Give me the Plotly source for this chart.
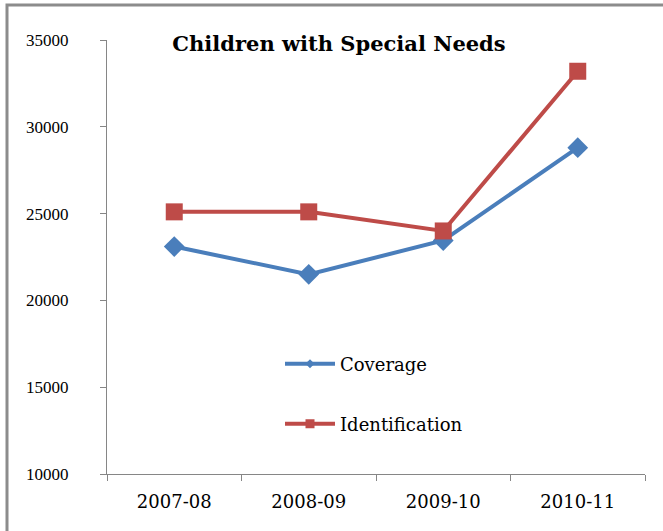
import plotly.graph_objects as go

categories = ["2007-08", "2008-09", "2009-10", "2010-11"]
coverage = [23100, 21500, 23450, 28800]
identification = [25100, 25100, 24000, 33200]
y_ticks = [10000, 15000, 20000, 25000, 30000, 35000]

BLUE = "#4A7EBB"
RED = "#BE4B48"
FONT = "Liberation Serif"
WIDE = "DejaVu Serif"

fig = go.Figure()
fig.add_trace(go.Scatter(
    x=categories, y=coverage, name="Coverage", mode="lines+markers",
    line=dict(color=BLUE, width=4),
    marker=dict(symbol="diamond", size=16, color=BLUE),
    showlegend=False,
))
fig.add_trace(go.Scatter(
    x=categories, y=identification, name="Identification", mode="lines+markers",
    line=dict(color=RED, width=4),
    marker=dict(symbol="square", size=17, color=RED),
    showlegend=False,
))
# legend entries (Excel-style small legend markers)
fig.add_trace(go.Scatter(
    x=[None], y=[None], name="Coverage", mode="lines+markers",
    line=dict(color=BLUE, width=4),
    marker=dict(symbol="diamond", size=7, color=BLUE),
    legend="legend", showlegend=True,
))
fig.add_trace(go.Scatter(
    x=[None], y=[None], name="Identification", mode="lines+markers",
    line=dict(color=RED, width=4),
    marker=dict(symbol="square", size=9, color=RED),
    legend="legend2", showlegend=True,
))

legend_common = dict(xanchor="left", yanchor="middle",
                     itemwidth=50, font=dict(family=WIDE, size=18, color="black"),
                     bgcolor="rgba(0,0,0,0)")

fig.update_layout(
    width=663, height=531,
    showlegend=True,
    margin=dict(l=107, r=18, t=40, b=57),
    paper_bgcolor="white", plot_bgcolor="white",
    font=dict(family=FONT, size=16, color="black"),
    title=dict(text="<b>Children with Special Needs</b>",
               font=dict(family=WIDE, size=21, color="black"),
               x=(339 - 107) / 538, xref="paper", xanchor="center",
               y=1 - 44 / 531, yref="container", yanchor="middle"),
    xaxis=dict(type="category", showgrid=False, showline=True, linecolor="#868686", linewidth=1,
               ticks="outside", tickson="boundaries", ticklen=6, tickcolor="#868686",
               ticklabelstandoff=11, tickfont=dict(family=WIDE, size=18),
               range=[-0.5, 3.5]),
    yaxis=dict(range=[10000, 35000], tickvals=y_ticks, tickformat="d", showgrid=False,
               showline=True, linecolor="#868686", linewidth=1,
               ticks="outside", ticklen=6, tickcolor="#868686",
               ticklabelstandoff=28, tickfont=dict(family=FONT, size=17),
               zeroline=False),
    legend=dict(x=(280 - 107) / 538, y=(474 - 364) / 434, **legend_common),
    legend2=dict(x=(280 - 107) / 538, y=(474 - 424) / 434, **legend_common),
    shapes=[dict(type="rect", xref="paper", yref="paper",
                 x0=(7 - 107) / 538, x1=1.2, y0=-0.3, y1=1 + 35 / 434,
                 line=dict(color="#8C8C8C", width=3), fillcolor="rgba(0,0,0,0)",
                 layer="below")],
)

fig.write_html("out.html")
